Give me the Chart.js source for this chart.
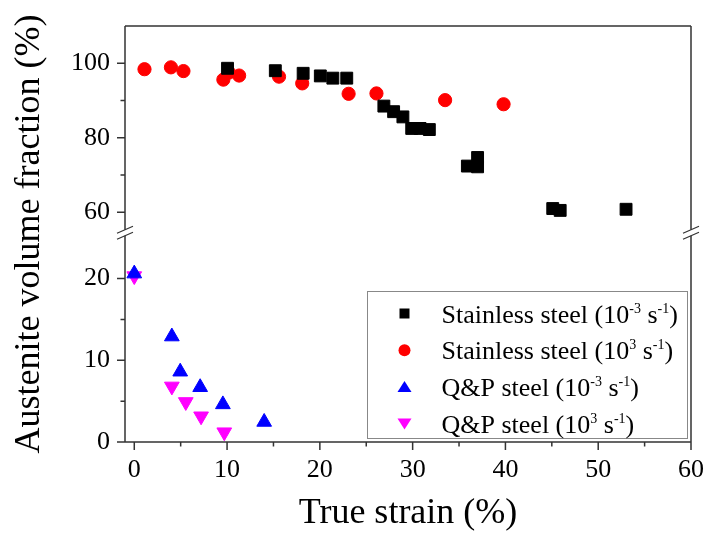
<!DOCTYPE html>
<html>
<head>
<meta charset="utf-8">
<title>Austenite volume fraction vs true strain</title>
<script src="https://cdn.jsdelivr.net/npm/chart.js@4.4.1/dist/chart.umd.min.js"></script>
<style>
  html, body { margin: 0; padding: 0; background: #fff; }
  #wrap { width: 707px; height: 538px; }
</style>
</head>
<body>
<div id="wrap"><canvas id="chart" width="707" height="538"></canvas></div>
<script>
// stainless steel, 10^-3 s^-1 (black squares)
const ssSlowStrain = [10.05, 15.2, 18.2, 20.05, 21.4, 22.9, 26.9, 27.95, 28.95, 29.9, 30.8, 31.8, 35.9, 37.0, 37.0, 45.1, 45.9, 53.0];
const ssSlowFrac   = [98.65, 98.0, 97.3, 96.6, 96.0, 96.0, 88.5, 87.0, 85.6, 82.5, 82.5, 82.2, 72.4, 74.7, 72.2, 61.0, 60.5, 60.8];
// stainless steel, 10^3 s^-1 (red circles)
const ssFastStrain = [1.1, 3.95, 5.3, 9.6, 10.2, 11.3, 15.6, 18.1, 23.1, 26.1, 33.5, 39.8];
const ssFastFrac   = [98.4, 98.9, 97.9, 95.6, 97.5, 96.7, 96.4, 94.6, 91.8, 91.9, 90.1, 89.0];
// Q&P steel, 10^-3 s^-1 (blue triangles)
const qpSlowStrain = [0, 4.05, 4.95, 7.1, 9.55, 14.0];
const qpSlowFrac   = [20.6, 12.9, 8.6, 6.7, 4.6, 2.45];
// Q&P steel, 10^3 s^-1 (magenta down triangles)
const qpFastStrain = [0, 4.05, 5.55, 7.2, 9.7];
const qpFastFrac   = [20.3, 6.8, 4.9, 3.15, 1.2];

const seriesNames = ['Stainless steel', 'Stainless steel', 'Q&P steel', 'Q&P steel'];
const rateExps = ['-3', '3', '-3', '3'];
const seriesColors = ['#000000', '#ff0000', '#0000ff', '#ff00ff'];

// labelled ticks
const xMajor = [0, 10, 20, 30, 40, 50, 60];
const upperMajor = [60, 80, 100];
const lowerMajor = [0, 10, 20];

const FONT = "'Liberation Serif', 'Times New Roman', serif";
const FRAME = '#333';

function toPoints(xs, ys) {
  return xs.map((x, i) => ({ x: x, y: ys[i] }));
}

function drawMarker(ctx, i, x, y) {
  ctx.fillStyle = seriesColors[i];
  ctx.beginPath();
  if (i === 0) {
    ctx.rect(x - 5, y - 5, 10, 10);
  } else if (i === 1) {
    ctx.arc(x, y, 6, 0, Math.PI * 2);
  } else if (i === 2) {
    ctx.moveTo(x, y - 6); ctx.lineTo(x + 7, y + 5); ctx.lineTo(x - 7, y + 5);
  } else {
    ctx.moveTo(x, y + 6); ctx.lineTo(x + 7, y - 5); ctx.lineTo(x - 7, y - 5);
  }
  ctx.closePath();
  ctx.fill();
}

// axis frame, ticks, the y axis break, y title and legend
const decor = {
  id: 'decor',
  afterDraw(chart) {
    const { ctx, chartArea: a, scales } = chart;
    const brk = scales.y2.bottom;
    ctx.save();
    ctx.strokeStyle = FRAME;
    ctx.lineWidth = 1.5;
    ctx.beginPath();
    ctx.moveTo(a.left, a.top); ctx.lineTo(a.right, a.top);
    ctx.moveTo(a.left, a.bottom); ctx.lineTo(a.right, a.bottom);
    [a.left, a.right].forEach(x => {
      ctx.moveTo(x, a.top); ctx.lineTo(x, brk - 3);
      ctx.moveTo(x, brk + 3); ctx.lineTo(x, a.bottom);
    });
    // ticks
    scales.x.ticks.forEach(t => {
      const px = scales.x.getPixelForValue(t.value);
      const len = xMajor.includes(t.value) ? 8 : 4.5;
      ctx.moveTo(px, a.bottom); ctx.lineTo(px, a.bottom + len);
    });
    [['y', lowerMajor], ['y2', upperMajor]].forEach(([id, major]) => {
      scales[id].ticks.forEach(t => {
        const py = scales[id].getPixelForValue(t.value);
        const len = major.includes(t.value) ? 8 : 4.5;
        ctx.moveTo(a.left - len, py); ctx.lineTo(a.left, py);
      });
    });
    ctx.stroke();

    // break marks
    ctx.lineWidth = 1.2;
    ctx.beginPath();
    [a.left, a.right].forEach(x => {
      [-3, 3].forEach(d => {
        ctx.moveTo(x - 8, brk + d + 3.5); ctx.lineTo(x + 8, brk + d - 3.5);
      });
    });
    ctx.stroke();

    // y title
    ctx.fillStyle = '#000';
    ctx.font = '36px ' + FONT;
    ctx.textAlign = 'center';
    ctx.textBaseline = 'middle';
    ctx.translate(30, (a.top + a.bottom) / 2);
    ctx.rotate(-Math.PI / 2);
    ctx.fillText('Austenite volume fraction (%)', 0, 0);
    ctx.setTransform(1, 0, 0, 1, 0, 0);

    // legend
    const bw = 320, bh = 147;
    const bx = a.right - 3.5 - bw, by = a.bottom - 3.5 - bh;
    ctx.fillStyle = '#fff';
    ctx.fillRect(bx, by, bw, bh);
    ctx.strokeStyle = '#888';
    ctx.lineWidth = 1;
    ctx.strokeRect(bx, by, bw, bh);
    ctx.textAlign = 'left';
    ctx.textBaseline = 'alphabetic';
    seriesNames.forEach((name, i) => {
      const cy = by + 22 + i * 36.7;
      drawMarker(ctx, i, bx + 37, cy);
      const base = cy + 9;
      let tx = bx + 74;
      ctx.fillStyle = '#000';
      const parts = [
        [name + ' (10', false],
        [rateExps[i], true],
        [' s', false],
        ['-1', true],
        [')', false]
      ];
      parts.forEach(([txt, sup]) => {
        ctx.font = (sup ? '14px ' : '26px ') + FONT;
        ctx.fillText(txt, tx, sup ? base - 10 : base);
        tx += ctx.measureText(txt).width;
      });
    });
    ctx.restore();
  }
};

const tickFont = { size: 26, family: FONT };

function fitY(s) {
  s.width = 125;
  s.paddingTop = 0;
  s.paddingBottom = 0;
}

new Chart(document.getElementById('chart'), {
  type: 'scatter',
  data: {
    datasets: [
      {
        label: seriesNames[0] + ' (10^' + rateExps[0] + ' s^-1)',
        data: toPoints(ssSlowStrain, ssSlowFrac),
        yAxisID: 'y2',
        pointStyle: 'rect',
        pointRadius: 8.4,
        backgroundColor: seriesColors[0],
        borderColor: seriesColors[0],
        borderWidth: 1
      },
      {
        label: seriesNames[1] + ' (10^' + rateExps[1] + ' s^-1)',
        data: toPoints(ssFastStrain, ssFastFrac),
        yAxisID: 'y2',
        pointStyle: 'circle',
        pointRadius: 6.6,
        backgroundColor: seriesColors[1],
        borderColor: seriesColors[1],
        borderWidth: 1
      },
      {
        label: seriesNames[2] + ' (10^' + rateExps[2] + ' s^-1)',
        data: toPoints(qpSlowStrain, qpSlowFrac),
        yAxisID: 'y',
        pointStyle: 'triangle',
        pointRadius: 8.5,
        backgroundColor: seriesColors[2],
        borderColor: seriesColors[2],
        borderWidth: 1
      },
      {
        label: seriesNames[3] + ' (10^' + rateExps[3] + ' s^-1)',
        data: toPoints(qpFastStrain, qpFastFrac),
        yAxisID: 'y',
        pointStyle: 'triangle',
        rotation: 180,
        pointRadius: 8.5,
        backgroundColor: seriesColors[3],
        borderColor: seriesColors[3],
        borderWidth: 1
      }
    ]
  },
  options: {
    responsive: false,
    animation: false,
    devicePixelRatio: 1,
    clip: false,
    layout: { padding: { left: 0, top: 26, right: 16, bottom: 0 } },
    plugins: {
      legend: { display: false },
      tooltip: { enabled: false }
    },
    scales: {
      x: {
        type: 'linear',
        min: -1,
        max: 60,
        grid: { display: false, drawTicks: false },
        border: { display: false },
        ticks: {
          stepSize: 5,
          includeBounds: false,
          autoSkip: false,
          maxRotation: 0,
          padding: 13,
          color: '#000',
          font: tickFont,
          callback: v => xMajor.includes(v) ? String(v) : ''
        },
        title: {
          display: true,
          text: 'True strain (%)',
          color: '#000',
          font: { size: 36, family: FONT },
          padding: { top: 0, bottom: 3 }
        },
        afterFit: s => {
          s.height = 96;
          s.paddingLeft = 0;
          s.paddingRight = 0;
        }
      },
      y: {
        type: 'linear',
        position: 'left',
        stack: 'frac',
        stackWeight: 209,
        weight: 1,
        min: 0,
        max: 25.6,
        grid: { display: false, drawTicks: false },
        border: { display: false },
        ticks: {
          stepSize: 5,
          includeBounds: false,
          autoSkip: false,
          padding: 15,
          color: '#000',
          font: tickFont,
          callback: v => lowerMajor.includes(v) ? String(v) : ''
        },
        afterBuildTicks: s => { s.ticks = s.ticks.filter(t => t.value <= 20); },
        afterFit: fitY
      },
      y2: {
        type: 'linear',
        position: 'left',
        stack: 'frac',
        stackWeight: 206.5,
        weight: 2,
        min: 54.5,
        max: 110,
        grid: { display: false, drawTicks: false },
        border: { display: false },
        ticks: {
          stepSize: 10,
          includeBounds: false,
          autoSkip: false,
          padding: 15,
          color: '#000',
          font: tickFont,
          callback: v => upperMajor.includes(v) ? String(v) : ''
        },
        afterBuildTicks: s => { s.ticks = s.ticks.filter(t => t.value <= 100); },
        afterFit: fitY
      }
    }
  },
  plugins: [decor]
});
</script>
</body>
</html>
